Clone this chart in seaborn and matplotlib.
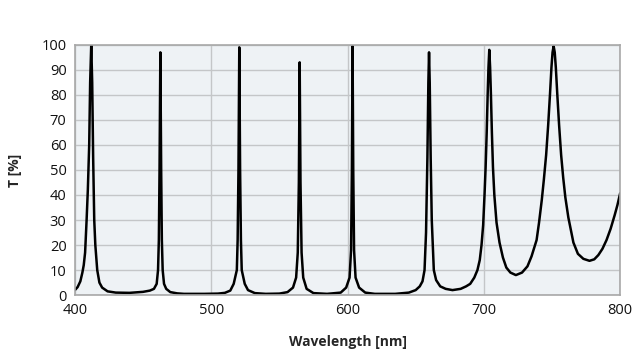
import matplotlib
matplotlib.use("Agg")
import matplotlib.pyplot as plt
import seaborn as sns
import pandas as pd

# Transmission spectrum
wavelength_nm = [
    400, 402, 404, 405.5, 406.5, 407.5, 408.6, 409.5, 410.5, 411.2, 412, 412.7, 413.4, 414.2, 415, 416.4, 418, 420, 424,
    430, 440, 450, 455,
    458, 460, 461, 461.6, 462.1, 462.7, 463.3, 463.8, 464.4, 465.4, 467, 470, 475, 480, 495, 505,
    510, 514, 516.5, 518.8, 519.4, 520, 520.6, 521.2, 521.8, 522.4, 524.6, 527, 532, 540, 550,
    556, 560, 562.3, 563.5, 564.3, 564.9, 565.5, 566.3, 567.5, 570, 575, 585,
    595, 599, 601.5, 602.6, 603.2, 603.7, 604.2, 604.8, 605.9, 608.5, 613, 620, 635, 645,
    650, 653, 655, 656.5, 657.6, 658.6, 659.3, 659.8, 660.3, 661, 661.8, 663.3, 665, 668, 672, 677, 683, 687,
    690, 693, 695.3, 697, 698.3, 699.5, 700.5, 701.3, 702.1, 702.8, 703.4, 704, 704.6, 705.2, 705.9, 706.7, 707.7,
    709.3, 711.5, 714, 716.5, 719.5, 723.5,
    728, 732, 735, 738.7, 740.5, 742.5, 744, 745.7, 747.2, 748.5, 749.6, 750.4, 751.2, 752, 752.8, 753.9, 755.2,
    756.7, 758.2, 759.8, 762, 765.7, 769, 773, 777.5, 781, 784, 787, 790, 793, 796, 798, 800,
]
transmission_pct = [
    2, 3.2, 5.5, 9, 12, 17, 30, 42, 60, 85, 100, 85, 55, 30, 20, 10, 5, 3, 1.5,
    1, 0.9, 1.3, 1.8,
    2.5, 4.5, 10, 22, 50, 97, 50, 22, 10, 4.5, 2.5, 1.2, 0.7, 0.5, 0.5, 0.6,
    0.9, 1.8, 4.5, 10, 22, 50, 99, 50, 22, 10, 4.5, 2, 0.8, 0.5, 0.6,
    1.2, 3, 7, 17, 45, 93, 45, 17, 7, 2.5, 0.8, 0.5,
    1, 3, 7, 18, 50, 99.5, 50, 18, 7, 3, 1, 0.5, 0.5, 1,
    2, 3.5, 5.5, 10, 25, 55, 85, 97, 85, 55, 30, 10, 6, 3.5, 2.5, 2, 2.5, 3.5,
    4.5, 7, 10, 14, 20, 28, 40, 51, 65, 80, 91, 98, 91, 80, 65, 51, 40,
    29, 21, 15, 11, 9, 8,
    9, 11.5, 15.5, 22, 29, 38, 46, 56, 68, 80, 91, 97, 99.5, 97, 91, 80, 68,
    56, 47, 39, 31, 21, 16.5, 14.5, 13.7, 14.3, 16, 18.5, 22, 26.5, 32, 36, 40.7,
]

x_ticks = [400, 500, 600, 700, 800]
y_ticks = list(range(0, 101, 10))

df = pd.DataFrame({"wavelength": wavelength_nm, "T": transmission_pct})

sns.set_theme(style="whitegrid")
plt.rcParams["font.family"] = ["Open Sans", "DejaVu Sans"]

fig = plt.figure(figsize=(6.4, 3.53), dpi=100)
ax = fig.add_axes([0.117, 0.164, 0.852, 0.709])
ax.set_facecolor("#eef2f5")

sns.lineplot(data=df, x="wavelength", y="T", ax=ax, color="black", linewidth=1.8)

ax.set_xlim(400, 800)
ax.set_ylim(0, 100)
ax.set_xticks(x_ticks)
ax.set_yticks(y_ticks)
ax.grid(True, color="#c4c6c8", linewidth=1.0)
ax.tick_params(axis="both", length=0, labelsize=10.5, colors="#111111", pad=6)
for s in ax.spines.values():
    s.set_color("#a8a8a8")
    s.set_linewidth(1.2)

ax.set_xlabel("Wavelength [nm]", fontsize=10, fontweight="bold", labelpad=12)
ax.set_ylabel("T [%]", fontsize=10, fontweight="bold", labelpad=14)

fig.savefig("out.png", dpi=100)
